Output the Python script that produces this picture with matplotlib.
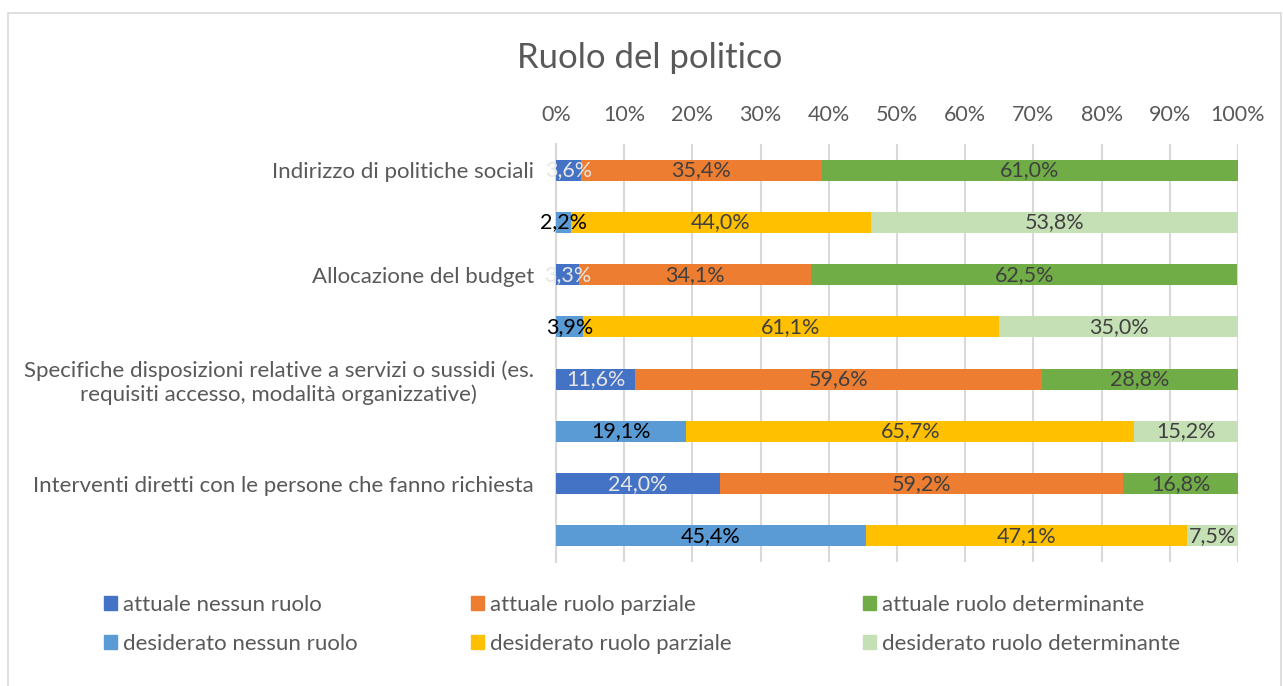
import numpy as np
import matplotlib.pyplot as plt
from matplotlib.patches import Rectangle
from matplotlib.ticker import PercentFormatter

plt.rcParams['font.family'] = ['Lato', 'DejaVu Sans']

# dati (righe dall'alto verso il basso)
categorie = ['Indirizzo di politiche sociali', '',
             'Allocazione del budget', '',
             'Specifiche disposizioni relative a servizi o sussidi (es.\nrequisiti accesso, modalità organizzative)', '',
             'Interventi diretti con le persone che fanno richiesta', '']
nessun_ruolo = [3.6, 2.2, 3.3, 3.9, 11.6, 19.1, 24.0, 45.4]
ruolo_parziale = [35.4, 44.0, 34.1, 61.1, 59.6, 65.7, 59.2, 47.1]
ruolo_determinante = [61.0, 53.8, 62.5, 35.0, 28.8, 15.2, 16.8, 7.5]

serie = ['nessun ruolo', 'ruolo parziale', 'ruolo determinante']
col_attuale = ['#4472C4', '#ED7D31', '#70AD47']
col_desiderato = ['#5B9BD5', '#FFC000', '#C5E0B4']
testo_attuale = ['#E7E6E6', '#404040', '#404040']
testo_desiderato = ['#000000', '#404040', '#404040']

fig = plt.figure(figsize=(12.83, 6.86), dpi=100)
ax = fig.add_axes([556/1283, 1-562/686, 682/1283, 418/686])

y = np.arange(len(categorie))
valori = [nessun_ruolo, ruolo_parziale, ruolo_determinante]
sinistra = np.zeros(len(categorie))
for j, v in enumerate(valori):
    v = np.array(v)
    colori = [col_attuale[j] if i % 2 == 0 else col_desiderato[j] for i in range(len(y))]
    ax.barh(y, v, left=sinistra, height=0.4, color=colori, zorder=3)
    for i in range(len(y)):
        c = testo_attuale[j] if i % 2 == 0 else testo_desiderato[j]
        ax.text(sinistra[i] + v[i]/2, y[i], ('%.1f%%' % v[i]).replace('.', ','),
                ha='center', va='center', fontsize=15.5, color=c, zorder=4)
    sinistra += v

ax.set_xlim(0, 100)
ax.set_ylim(len(categorie) - 0.5, -0.5)
ax.set_yticks(y)
ax.set_yticklabels(categorie, fontsize=16, color='#595959')
for t in ax.get_yticklabels():
    t.set_multialignment('center')
ax.set_xticks(np.arange(0, 101, 10))
ax.xaxis.set_major_formatter(PercentFormatter(decimals=0))
ax.xaxis.tick_top()
ax.tick_params(axis='x', length=0, labelsize=15.5, labelcolor='#595959', pad=14)
ax.tick_params(axis='y', length=0, pad=16)
ax.grid(axis='x', color='#D9D9D9', linewidth=1.5, zorder=0)
for s in ['top', 'right', 'bottom']:
    ax.spines[s].set_visible(False)
ax.spines['left'].set_color('#D9D9D9')
ax.spines['left'].set_linewidth(1.5)

fig.text(650/1283, 1-58/686, 'Ruolo del politico', ha='center', va='center',
         fontsize=25, color='#595959')

# legenda su tre colonne
x_leg = [95/1283, 462/1283, 854/1283]
for j in range(3):
    h = [Rectangle((0, 0), 1, 1, color=col_attuale[j]),
         Rectangle((0, 0), 1, 1, color=col_desiderato[j])]
    lab = ['attuale ' + serie[j], 'desiderato ' + serie[j]]
    fig.legend(h, lab, loc='upper left', bbox_to_anchor=(x_leg[j], 1-586/686),
               frameon=False, fontsize=16, labelcolor='#595959',
               handlelength=0.6, handleheight=0.6, handletextpad=0.25,
               labelspacing=0.85, borderaxespad=0)

# bordo del grafico
fig.add_artist(Rectangle((8/1283, -0.05), 1273/1283, 1.05 - 13/686,
                         transform=fig.transFigure, fill=False,
                         edgecolor='#D9D9D9', linewidth=1.2))

fig.savefig('out.png', dpi=100)
